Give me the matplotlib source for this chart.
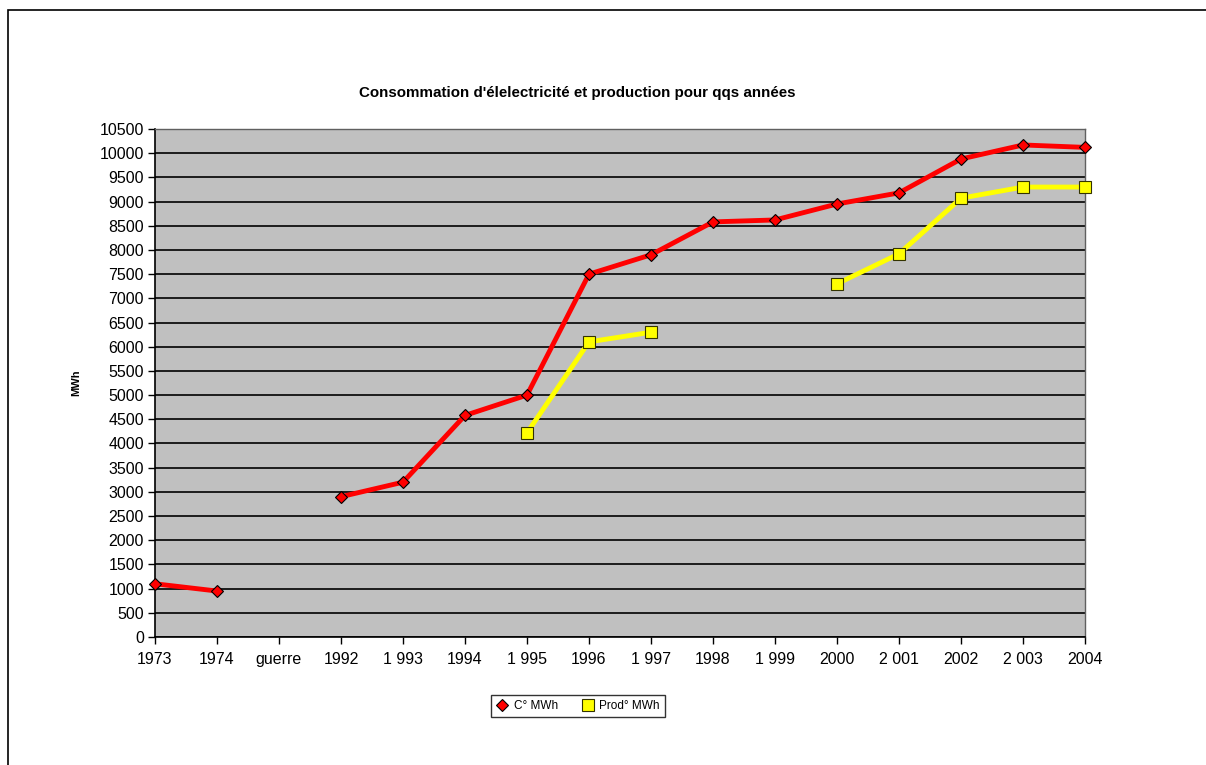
import numpy as np
import matplotlib
matplotlib.use("Agg")
import matplotlib.pyplot as plt
from matplotlib.patches import Rectangle

plt.rcParams['font.family'] = ['Liberation Sans', 'DejaVu Sans']

categories = ["1973", "1974", "guerre", "1992", "1 993", "1994", "1 995", "1996",
              "1 997", "1998", "1 999", "2000", "2 001", "2002", "2 003", "2004"]
conso = [1100, 950, np.nan, 2900, 3200, 4580, 5000, 7500, 7900, 8580, 8620,
         8950, 9180, 9880, 10170, 10120]
prod = [np.nan, np.nan, np.nan, np.nan, np.nan, np.nan, 4220, 6100, 6300,
        np.nan, np.nan, 7300, 7920, 9070, 9300, 9300]

fig = plt.figure(figsize=(12.06, 7.65), dpi=100)
ax = fig.add_axes([155/1206, 1-637/765, (1085-155)/1206, (637-129)/765])
ax.set_facecolor('#C0C0C0')

x = np.arange(len(categories))
ax.plot(x, conso, color='#FF0000', lw=3.5, marker='D', ms=6.5,
        markerfacecolor='#FF0000', markeredgecolor='#000000', mew=0.8,
        label="C° MWh", zorder=4, clip_on=False)
ax.plot(x, prod, color='#FFFF00', lw=3.5, marker='s', ms=8,
        markerfacecolor='#FFFF00', markeredgecolor='#333300', mew=0.8,
        label="Prod° MWh", zorder=3, clip_on=False)

ax.set_xlim(0, len(categories) - 1)
ax.set_ylim(0, 10500)
ax.set_yticks(np.arange(0, 10501, 500))
ax.set_xticks(x)
ax.set_xticklabels(categories)
ax.tick_params(axis='both', direction='out', length=5, width=1, labelsize=11.5,
               color='black')
ax.tick_params(axis='x', pad=6)
ax.tick_params(axis='y', pad=3)
ax.yaxis.grid(True, color='black', lw=1.2)
ax.set_axisbelow(True)
for s in ['top', 'right']:
    ax.spines[s].set_color('#606060')
    ax.spines[s].set_linewidth(1)
for s in ['left', 'bottom']:
    ax.spines[s].set_color('black')
    ax.spines[s].set_linewidth(1.2)

ax.set_ylabel("MWh", fontsize=8, fontweight='bold', labelpad=8)
ax.yaxis.set_label_coords(-0.079, 0.5)
fig.text(577/1206, 1-93/765, "Consommation d'élelectricité et production pour qqs années",
         ha='center', va='center', fontsize=10.9, fontweight='bold')

leg = ax.legend(loc='center', bbox_to_anchor=(578/1206, 1-706/765),
                bbox_transform=fig.transFigure, ncol=2, fontsize=8.5,
                frameon=True, fancybox=False, edgecolor='black',
                handlelength=1.0, handletextpad=0.5, columnspacing=2.0,
                borderpad=0.4)
leg.get_frame().set_linewidth(1)
for h in leg.get_lines():
    h.set_linestyle('none')

fig.patches.append(Rectangle((8/1206, -0.05), 1.05, 1 - 10/765 + 0.05,
                             transform=fig.transFigure, fill=False,
                             edgecolor='black', lw=1.2, zorder=0))

fig.savefig("out.png", dpi=100)
